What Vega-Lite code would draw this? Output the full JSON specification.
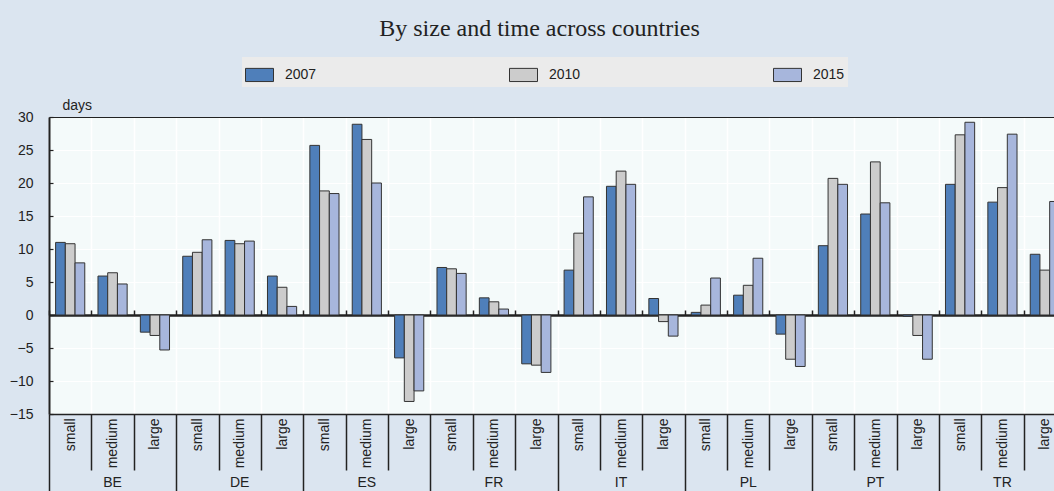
{
  "$schema": "https://vega.github.io/schema/vega-lite/v6.json",
  "width": 1005,
  "height": 297,
  "autosize": {"type": "none"},
  "padding": {"left": 49, "top": 117, "right": 0, "bottom": 77},
  "background": "#dbe5f0",
  "title": {
    "text": "By size and time across countries",
    "font": "Liberation Serif",
    "fontSize": 24,
    "fontWeight": "normal",
    "color": "#222222",
    "anchor": "middle",
    "baseline": "alphabetic",
    "dx": -12,
    "offset": -3
  },
  "data": {
    "values": [
      {"country": "BE", "size": "small", "key": "BE|small", "year": "2007", "value": 11.0},
      {"country": "BE", "size": "small", "key": "BE|small", "year": "2010", "value": 10.8},
      {"country": "BE", "size": "small", "key": "BE|small", "year": "2015", "value": 7.9},
      {"country": "BE", "size": "medium", "key": "BE|medium", "year": "2007", "value": 5.9},
      {"country": "BE", "size": "medium", "key": "BE|medium", "year": "2010", "value": 6.4},
      {"country": "BE", "size": "medium", "key": "BE|medium", "year": "2015", "value": 4.7},
      {"country": "BE", "size": "large", "key": "BE|large", "year": "2007", "value": -2.6},
      {"country": "BE", "size": "large", "key": "BE|large", "year": "2010", "value": -3.1},
      {"country": "BE", "size": "large", "key": "BE|large", "year": "2015", "value": -5.3},
      {"country": "DE", "size": "small", "key": "DE|small", "year": "2007", "value": 8.9},
      {"country": "DE", "size": "small", "key": "DE|small", "year": "2010", "value": 9.5},
      {"country": "DE", "size": "small", "key": "DE|small", "year": "2015", "value": 11.4},
      {"country": "DE", "size": "medium", "key": "DE|medium", "year": "2007", "value": 11.3},
      {"country": "DE", "size": "medium", "key": "DE|medium", "year": "2010", "value": 10.8},
      {"country": "DE", "size": "medium", "key": "DE|medium", "year": "2015", "value": 11.2},
      {"country": "DE", "size": "large", "key": "DE|large", "year": "2007", "value": 5.9},
      {"country": "DE", "size": "large", "key": "DE|large", "year": "2010", "value": 4.2},
      {"country": "DE", "size": "large", "key": "DE|large", "year": "2015", "value": 1.3},
      {"country": "ES", "size": "small", "key": "ES|small", "year": "2007", "value": 25.7},
      {"country": "ES", "size": "small", "key": "ES|small", "year": "2010", "value": 18.8},
      {"country": "ES", "size": "small", "key": "ES|small", "year": "2015", "value": 18.4},
      {"country": "ES", "size": "medium", "key": "ES|medium", "year": "2007", "value": 28.9},
      {"country": "ES", "size": "medium", "key": "ES|medium", "year": "2010", "value": 26.6},
      {"country": "ES", "size": "medium", "key": "ES|medium", "year": "2015", "value": 20.0},
      {"country": "ES", "size": "large", "key": "ES|large", "year": "2007", "value": -6.5},
      {"country": "ES", "size": "large", "key": "ES|large", "year": "2010", "value": -13.1},
      {"country": "ES", "size": "large", "key": "ES|large", "year": "2015", "value": -11.5},
      {"country": "FR", "size": "small", "key": "FR|small", "year": "2007", "value": 7.2},
      {"country": "FR", "size": "small", "key": "FR|small", "year": "2010", "value": 7.0},
      {"country": "FR", "size": "small", "key": "FR|small", "year": "2015", "value": 6.3},
      {"country": "FR", "size": "medium", "key": "FR|medium", "year": "2007", "value": 2.6},
      {"country": "FR", "size": "medium", "key": "FR|medium", "year": "2010", "value": 2.0},
      {"country": "FR", "size": "medium", "key": "FR|medium", "year": "2015", "value": 0.9},
      {"country": "FR", "size": "large", "key": "FR|large", "year": "2007", "value": -7.4},
      {"country": "FR", "size": "large", "key": "FR|large", "year": "2010", "value": -7.6},
      {"country": "FR", "size": "large", "key": "FR|large", "year": "2015", "value": -8.7},
      {"country": "IT", "size": "small", "key": "IT|small", "year": "2007", "value": 6.8},
      {"country": "IT", "size": "small", "key": "IT|small", "year": "2010", "value": 12.4},
      {"country": "IT", "size": "small", "key": "IT|small", "year": "2015", "value": 17.9},
      {"country": "IT", "size": "medium", "key": "IT|medium", "year": "2007", "value": 19.5},
      {"country": "IT", "size": "medium", "key": "IT|medium", "year": "2010", "value": 21.8},
      {"country": "IT", "size": "medium", "key": "IT|medium", "year": "2015", "value": 19.8},
      {"country": "IT", "size": "large", "key": "IT|large", "year": "2007", "value": 2.5},
      {"country": "IT", "size": "large", "key": "IT|large", "year": "2010", "value": -1.0},
      {"country": "IT", "size": "large", "key": "IT|large", "year": "2015", "value": -3.2},
      {"country": "PL", "size": "small", "key": "PL|small", "year": "2007", "value": 0.4},
      {"country": "PL", "size": "small", "key": "PL|small", "year": "2010", "value": 1.5},
      {"country": "PL", "size": "small", "key": "PL|small", "year": "2015", "value": 5.6},
      {"country": "PL", "size": "medium", "key": "PL|medium", "year": "2007", "value": 3.0},
      {"country": "PL", "size": "medium", "key": "PL|medium", "year": "2010", "value": 4.5},
      {"country": "PL", "size": "medium", "key": "PL|medium", "year": "2015", "value": 8.6},
      {"country": "PL", "size": "large", "key": "PL|large", "year": "2007", "value": -2.9},
      {"country": "PL", "size": "large", "key": "PL|large", "year": "2010", "value": -6.7},
      {"country": "PL", "size": "large", "key": "PL|large", "year": "2015", "value": -7.8},
      {"country": "PT", "size": "small", "key": "PT|small", "year": "2007", "value": 10.5},
      {"country": "PT", "size": "small", "key": "PT|small", "year": "2010", "value": 20.7},
      {"country": "PT", "size": "small", "key": "PT|small", "year": "2015", "value": 19.8},
      {"country": "PT", "size": "medium", "key": "PT|medium", "year": "2007", "value": 15.3},
      {"country": "PT", "size": "medium", "key": "PT|medium", "year": "2010", "value": 23.2},
      {"country": "PT", "size": "medium", "key": "PT|medium", "year": "2015", "value": 17.0},
      {"country": "PT", "size": "large", "key": "PT|large", "year": "2007", "value": -0.2},
      {"country": "PT", "size": "large", "key": "PT|large", "year": "2010", "value": -3.1},
      {"country": "PT", "size": "large", "key": "PT|large", "year": "2015", "value": -6.7},
      {"country": "TR", "size": "small", "key": "TR|small", "year": "2007", "value": 19.8},
      {"country": "TR", "size": "small", "key": "TR|small", "year": "2010", "value": 27.3},
      {"country": "TR", "size": "small", "key": "TR|small", "year": "2015", "value": 29.2},
      {"country": "TR", "size": "medium", "key": "TR|medium", "year": "2007", "value": 17.1},
      {"country": "TR", "size": "medium", "key": "TR|medium", "year": "2010", "value": 19.3},
      {"country": "TR", "size": "medium", "key": "TR|medium", "year": "2015", "value": 27.4},
      {"country": "TR", "size": "large", "key": "TR|large", "year": "2007", "value": 9.2},
      {"country": "TR", "size": "large", "key": "TR|large", "year": "2010", "value": 6.8},
      {"country": "TR", "size": "large", "key": "TR|large", "year": "2015", "value": 17.2}
    ]
  },
  "layer": [
    {
      "mark": {"type": "bar", "stroke": "#333333", "strokeWidth": 1},
      "encoding": {
        "x": {
          "field": "key",
          "type": "nominal",
          "scale": {
            "domain": ["BE|small", "BE|medium", "BE|large", "DE|small", "DE|medium", "DE|large", "ES|small", "ES|medium", "ES|large", "FR|small", "FR|medium", "FR|large", "IT|small", "IT|medium", "IT|large", "PL|small", "PL|medium", "PL|large", "PT|small", "PT|medium", "PT|large", "TR|small", "TR|medium", "TR|large"],
            "range": [0, 1017],
            "paddingInner": 0,
            "paddingOuter": 0
          },
          "axis": {
            "orient": "bottom",
            "title": null,
            "tickBand": "extent",
            "grid": true,
            "gridColor": "#ffffff",
            "gridWidth": 1.5,
            "domainColor": "#222222",
            "domainWidth": 1.5,
            "tickColor": "#222222",
            "tickWidth": 1.5,
            "tickSize": {"condition": {"test": "!datum.value || indexof(datum.value, 'large') >= 0", "value": 80}, "value": 56},
            "labelPadding": {"condition": {"test": "!datum.value || indexof(datum.value, 'large') >= 0", "value": -76}, "value": -52},
            "labelAngle": -90,
            "labelAlign": "right",
            "labelBaseline": "middle",
            "labelExpr": "datum.value ? split(datum.value, '|')[1] : ''",
            "labelFont": "Liberation Sans",
            "labelFontSize": 14,
            "labelColor": "#222222",
            "labelOverlap": false
          }
        },
        "xOffset": {"field": "year", "type": "nominal", "scale": {"paddingInner": 0, "paddingOuter": 0.68}},
        "y": {
          "field": "value",
          "type": "quantitative",
          "scale": {"domain": [-15, 30], "nice": false, "zero": false},
          "axis": {
            "title": "days",
            "values": [-15, -10, -5, 0, 5, 10, 15, 20, 25, 30],
            "labelOverlap": false,
            "labelFlush": false,
            "grid": true,
            "gridColor": {"condition": {"test": "datum.value == 30 || datum.value == 0", "value": "#222222"}, "value": "#ffffff"},
            "gridWidth": {"condition": {"test": "datum.value == 0", "value": 2}, "value": 1.2},
            "domainColor": "#222222",
            "domainWidth": 2,
            "tickColor": "#222222",
            "tickWidth": 1.2,
            "tickSize": -4,
            "labelPadding": 20,
            "labelFont": "Liberation Sans",
            "labelFontSize": 14,
            "labelColor": "#222222",
            "titleAngle": 0,
            "titleX": 13,
            "titleY": -8,
            "titleAlign": "left",
            "titleBaseline": "alphabetic",
            "titleFont": "Liberation Sans",
            "titleFontSize": 14,
            "titleFontWeight": "normal",
            "titleColor": "#222222"
          }
        },
        "color": {
          "field": "year",
          "type": "nominal",
          "scale": {"domain": ["2007", "2010", "2015"], "range": ["#4f7fba", "#cccccc", "#a7b6dc"]},
          "legend": {
            "orient": "none",
            "legendX": 193,
            "legendY": -60,
            "direction": "horizontal",
            "title": null,
            "fillColor": "#ebebeb",
            "padding": 3,
            "columnPadding": 190,
            "symbolType": "M-1,-0.47H1V0.47H-1Z",
            "symbolSize": 784,
            "symbolStrokeColor": "#333333",
            "symbolStrokeWidth": 1,
            "symbolOpacity": 1,
            "labelFont": "Liberation Sans",
            "labelFontSize": 14,
            "labelColor": "#222222",
            "labelOffset": 11
          }
        }
      }
    },
    {
      "transform": [{"filter": "datum.size == 'medium' && datum.year == '2007'"}],
      "mark": {"type": "text", "dy": 73, "fontSize": 14, "font": "Liberation Sans", "color": "#222222", "baseline": "alphabetic", "align": "center"},
      "encoding": {
        "x": {
          "field": "key",
          "type": "nominal",
          "axis": {
            "orient": "top",
            "offset": -198,
            "title": null,
            "labels": false,
            "grid": false,
            "tickBand": "extent",
            "domainColor": "#222222",
            "domainWidth": 2,
            "tickColor": "#222222",
            "tickWidth": 1.5,
            "tickSize": 5
          }
        },
        "y": {"datum": -15, "type": "quantitative", "axis": null},
        "text": {"field": "country", "type": "nominal"}
      }
    }
  ],
  "resolve": {"axis": {"x": "independent", "y": "independent"}},
  "config": {
    "view": {"stroke": null, "fill": "#f4fafa"},
    "font": "Liberation Sans"
  }
}
